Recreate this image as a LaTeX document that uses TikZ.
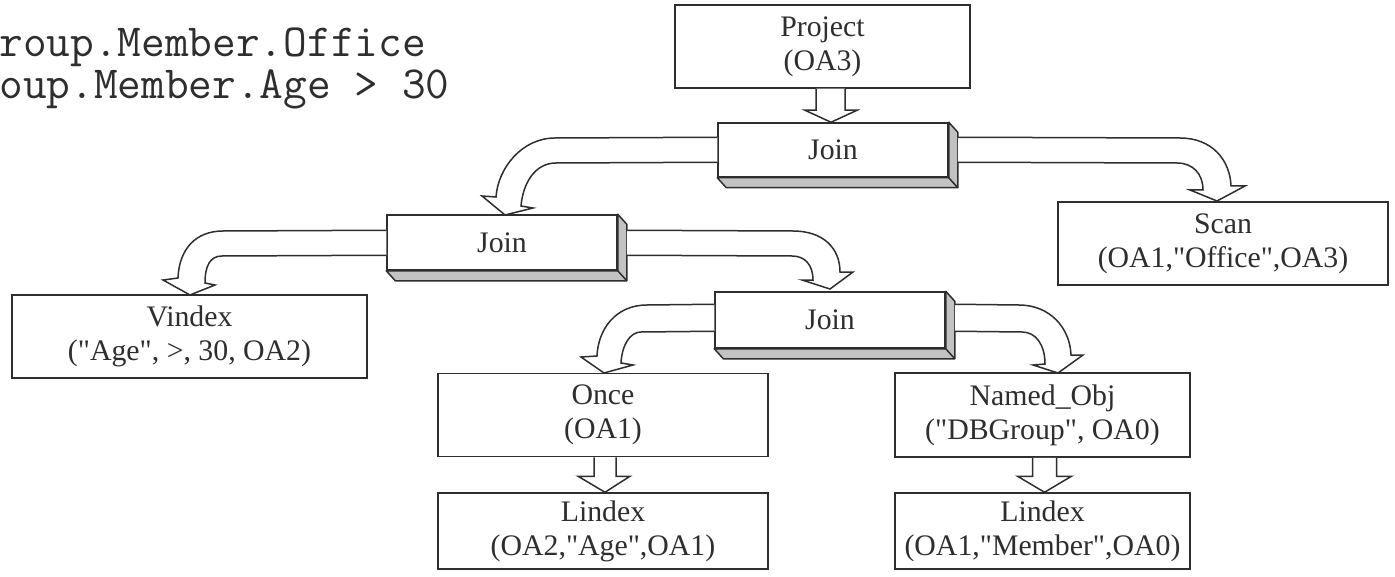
\documentclass[tikz,border=0pt]{standalone}
\usepackage{fontspec}
\setmainfont{Liberation Serif}[Ligatures=TeXOff]
\definecolor{ink}{HTML}{2E2E2E}
\definecolor{shade}{HTML}{C2C2C2}
\tikzset{
  box/.style={draw=ink, line width=0.75pt, fill=white, inner sep=0pt,
    align=center, text=ink, font=\fontsize{14.9}{17}\selectfont},
  depth/.style={draw=ink, line width=0.75pt, fill=shade, line join=round},
  fat/.style={draw=ink, line width=0.75pt, fill=white, line join=miter},
  query/.style={anchor=base west, inner sep=0pt, text=ink,
    font=\ttfamily\fontsize{23}{23}\selectfont},
}
\begin{document}
\begin{tikzpicture}[x=0.5pt, y=-0.5pt]
\useasboundingbox (0,0) rectangle (1395,577);

% query text, partly cut off at the left edge
\node[query] (q1) at (-1,57) {roup.Member.Office};
\node[query] (q2) at (-1,99) {oup.Member.Age > 30};

% plain operator boxes
\node[box, minimum width=147.5pt, minimum height=41.5pt] (project) at (822.5,46.5) {Project\\(OA3)};
\node[box, minimum width=165pt, minimum height=41.5pt] (scan) at (1223,243.5) {Scan\\(OA1,"Office",OA3)};
\node[box, minimum width=177.5pt, minimum height=41.5pt] (vindex) at (189.5,336.5) {Vindex\\("Age", >, 30, OA2)};
\node[box, minimum width=165pt, minimum height=41.5pt] (once) at (603,415) {Once\\(OA1)};
\node[box, minimum width=147.5pt, minimum height=42pt] (named) at (1042.5,415) {Named\_Obj\\("DBGroup", OA0)};
\node[box, minimum width=165pt, minimum height=38pt] (lindexA) at (603,531) {Lindex\\(OA2,"Age",OA1)};
\node[box, minimum width=147.5pt, minimum height=38pt] (lindexB) at (1042.5,531) {Lindex\\(OA1,"Member",OA0)};

% join boxes with a shaded 3D edge
\node[box, minimum width=115pt, minimum height=27pt] (j1) at (833,150) {Join};
\node[box, minimum width=115pt, minimum height=27.5pt] (j2) at (502,242.5) {Join};
\node[box, minimum width=115pt, minimum height=28pt] (j3) at (830,320) {Join};
\foreach \j in {j1,j2,j3}{
  \draw[depth] (\j.south west) -- ([shift={(9,10)}]\j.south west)
    -- ([shift={(9,10)}]\j.south east) -- ([shift={(9,10)}]\j.north east)
    -- (\j.north east) -- (\j.south east) -- cycle;
  \draw[ink, line width=0.75pt] (\j.south east) -- ([shift={(9,10)}]\j.south east);
}

% straight hollow arrows
\coordinate (t0) at ([shift={(-2,0)}]j1.north);
\coordinate (s0) at (t0 |- project.south);
\draw[fat] ([shift={(-15,0)}]s0) -- ([shift={(-15,-12)}]t0) -- ([shift={(-26,-12)}]t0)
  -- (t0) -- ([shift={(26,-12)}]t0) -- ([shift={(14,-12)}]t0) -- ([shift={(14,0)}]s0);

\coordinate (t1) at ([shift={(2,0)}]lindexA.north);
\coordinate (s1) at (t1 |- once.south);
\draw[fat] ([shift={(-11,0)}]s1) -- ([shift={(-11,-16)}]t1) -- ([shift={(-27,-16)}]t1)
  -- (t1) -- ([shift={(25,-16)}]t1) -- ([shift={(11,-16)}]t1) -- ([shift={(11,0)}]s1);

\coordinate (t2) at ([shift={(2,0)}]lindexB.north);
\coordinate (s2) at (t2 |- named.south);
\draw[fat] ([shift={(-12,0)}]s2) -- ([shift={(-12,-16)}]t2) -- ([shift={(-27,-16)}]t2)
  -- (t2) -- ([shift={(27,-16)}]t2) -- ([shift={(12,-16)}]t2) -- ([shift={(12,0)}]s2);

% curved hollow arrows out of the joins
\draw[fat] ([shift={(0,15)}]j1.north west) -- (555,138)
  .. controls (522,138) and (498,168) .. (496,197) -- (482,196) -- (505,215)
  -- (533,208) -- (521,206) .. controls (523,183) and (535,163) .. (556,163)
  -- ([shift={(0,40)}]j1.north west);
\draw[fat] ([shift={(9,15)}]j1.north east) -- (1180,138)
  .. controls (1212,138) and (1230,160) .. (1231,186) -- (1245,186) -- (1217,201)
  -- (1190,190) -- (1203,190) .. controls (1203,174) and (1193,163) .. (1177,163)
  -- ([shift={(9,40)}]j1.north east);

\draw[fat] ([shift={(0,16)}]j2.north west) -- (223,231)
  .. controls (195,231) and (179,250) .. (178,278) -- (163,280) -- (190,295)
  -- (215,285) -- (205,283) .. controls (205,266) and (210,256) .. (222,256)
  -- ([shift={(0,41)}]j2.north west);
\draw[fat] ([shift={(9,16)}]j2.north east) -- (793,231)
  .. controls (823,231) and (840,248) .. (840,272) -- (853,272) -- (830,289)
  -- (802,280) -- (813,280) .. controls (813,265) and (805,256) .. (792,256)
  -- ([shift={(9,41)}]j2.north east);

\draw[fat] ([shift={(0,13)}]j3.north west) -- (647,305)
  .. controls (615,305) and (598,330) .. (597,356) -- (581,357) -- (604,373)
  -- (633,365) -- (621,363) .. controls (622,345) and (630,332) .. (641,332)
  -- ([shift={(0,40)}]j3.north west);
\draw[fat] ([shift={(9,13)}]j3.north east) -- (1019,305)
  .. controls (1050,305) and (1070,328) .. (1071,355) -- (1083,355) -- (1058,373)
  -- (1033,365) -- (1045,364) .. controls (1045,345) and (1036,332) .. (1022,332)
  -- ([shift={(9,40)}]j3.north east);
\end{tikzpicture}
\end{document}
